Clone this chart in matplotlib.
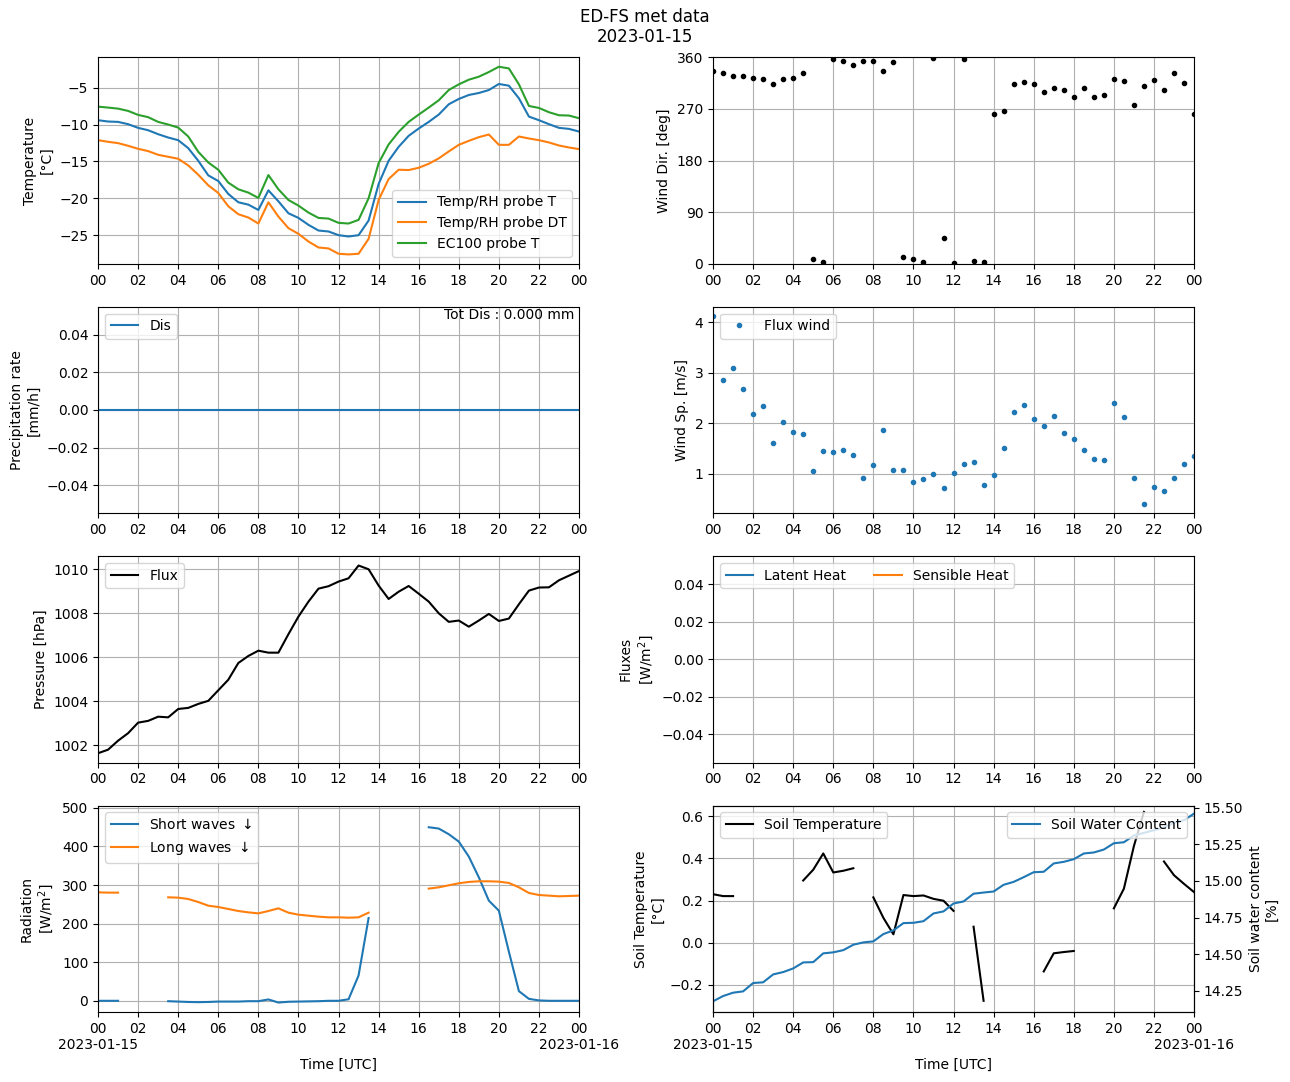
import numpy as np
import pandas as pd
import matplotlib
matplotlib.use("Agg")
import matplotlib.pyplot as plt
import matplotlib.dates as mdates

nan = np.nan
times = pd.date_range("2023-01-15 00:00", periods=49, freq="30min")

temp_rh_t = [-9.41, -9.59, -9.64, -9.95, -10.45, -10.77, -11.31, -11.76, -12.12, -13.2,
             -14.91, -16.89, -17.66, -19.41, -20.54, -20.86, -21.58, -18.92, -20.41, -22.03,
             -22.66, -23.6, -24.37, -24.5, -25.0, -25.18, -25.0, -23.02, -18.06, -14.91,
             -13.02, -11.53, -10.54, -9.64, -8.65, -7.25, -6.53, -5.99, -5.72, -5.32,
             -4.50, -4.73, -6.44, -8.92, -9.41, -9.95, -10.45, -10.59, -10.95]
temp_rh_dt = [-12.12, -12.34, -12.52, -12.88, -13.29, -13.6, -14.1, -14.37, -14.64, -15.54,
              -16.8, -18.24, -19.28, -21.08, -22.16, -22.61, -23.42, -20.54, -22.48, -24.05,
              -24.82, -25.86, -26.67, -26.80, -27.52, -27.61, -27.52, -25.5, -20.23, -17.39,
              -16.13, -16.17, -15.86, -15.32, -14.59, -13.65, -12.75, -12.21, -11.71, -11.35,
              -12.75, -12.75, -11.62, -11.89, -12.12, -12.43, -12.84, -13.11, -13.33]
temp_ec100 = [-7.57, -7.70, -7.84, -8.15, -8.69, -9.0, -9.64, -10.0, -10.41, -11.62,
              -13.69, -15.14, -16.13, -17.88, -18.78, -19.23, -19.95, -16.85, -18.78, -20.23,
              -20.99, -21.94, -22.66, -22.75, -23.33, -23.42, -22.93, -20.0, -15.23, -12.7,
              -10.99, -9.64, -8.65, -7.70, -6.71, -5.32, -4.55, -3.92, -3.51, -2.88,
              -2.16, -2.39, -4.55, -7.48, -7.75, -8.33, -8.74, -8.78, -9.14]

wind_dir = [336.8, 333.3, 328.1, 328.0, 324.6, 322.9, 314.2, 322.9, 324.6, 333.3,
            8.1, 2.9, 357.7, 354.2, 347.2, 354.2, 354.2, 336.8, 352.5, 11.6,
            8.1, 2.9, 359.4, 44.6, 1.2, 357.7, 4.6, 2.9, 262.0, 267.2,
            314.2, 317.7, 314.2, 300.3, 307.2, 303.8, 291.6, 307.2, 291.6, 295.1,
            322.9, 319.4, 277.7, 310.7, 321.2, 303.8, 333.3, 315.9, 262.0]

precip = [0.0] * 49
tot_dis = 0.0

wind_speed = [4.12, 2.85, 3.09, 2.67, 2.18, 2.34, 1.61, 2.02, 1.83, 1.79,
              1.06, 1.45, 1.43, 1.47, 1.37, 0.92, 1.18, 1.87, 1.08, 1.08,
              0.84, 0.90, 1.00, 0.72, 1.02, 1.20, 1.24, 0.78, 0.98, 1.51,
              2.22, 2.36, 2.08, 1.95, 2.14, 1.81, 1.69, 1.47, 1.30, 1.28,
              2.40, 2.12, 0.92, 0.41, 0.74, 0.67, 0.92, 1.20, 1.35]

pressure = [1001.64, 1001.80, 1002.21, 1002.55, 1003.03, 1003.11, 1003.30, 1003.27, 1003.65, 1003.70,
            1003.88, 1004.02, 1004.50, 1004.98, 1005.74, 1006.06, 1006.30, 1006.21, 1006.21, 1007.05,
            1007.85, 1008.53, 1009.12, 1009.23, 1009.44, 1009.59, 1010.17, 1010.00, 1009.26, 1008.65,
            1008.98, 1009.24, 1008.89, 1008.53, 1008.00, 1007.61, 1007.67, 1007.39, 1007.67, 1007.97,
            1007.65, 1007.76, 1008.41, 1009.03, 1009.17, 1009.18, 1009.50, 1009.71, 1009.92]

latent_heat = []
sensible_heat = []

short_waves = [0.0, 0.0, 0.0, nan, nan, nan, nan, -1.0, -2.0, -3.0,
               -3.5, -3.0, -2.0, -2.0, -2.0, -1.0, -1.0, 3.5, -4.5, -2.5,
               -2.0, -1.5, -1.0, 0.0, 0.0, 4.0, 65.7, 214.5, nan, nan,
               nan, nan, nan, 449.8, 446.4, 431.7, 412.6, 373.7, 320.0, 259.5,
               233.6, 127.2, 25.0, 5.0, 1.0, 0.0, 0.0, 0.0, 0.0]
long_waves = [281.1, 280.3, 280.3, nan, nan, nan, nan, 268.2, 267.3, 263.8,
              256.0, 246.5, 243.1, 237.9, 232.7, 229.2, 226.6, 232.7, 239.6, 228.4,
              223.2, 220.6, 218.0, 216.3, 216.3, 215.4, 216.3, 228.4, nan, nan,
              nan, nan, nan, 290.7, 294.1, 299.3, 304.5, 308.0, 309.7, 309.7,
              308.8, 305.4, 294.1, 279.4, 274.2, 272.5, 270.8, 271.6, 272.5]

soil_temp = [0.230, 0.221, 0.221, nan, nan, nan, nan, nan, nan, 0.295,
             0.346, 0.423, 0.333, 0.341, 0.353, nan, 0.215, 0.118, 0.040, 0.226,
             0.221, 0.224, 0.208, 0.199, 0.151, nan, 0.076, -0.275, nan, nan,
             nan, nan, nan, -0.136, -0.050, -0.044, -0.039, nan, nan, nan,
             0.163, 0.256, 0.458, 0.620, nan, 0.385, 0.320, 0.279, 0.240]
soil_water = [14.177, 14.213, 14.236, 14.245, 14.302, 14.307, 14.361, 14.377, 14.402, 14.443,
              14.445, 14.505, 14.512, 14.527, 14.564, 14.580, 14.587, 14.637, 14.662, 14.712,
              14.714, 14.725, 14.778, 14.792, 14.846, 14.860, 14.913, 14.921, 14.928, 14.974,
              14.994, 15.026, 15.060, 15.063, 15.120, 15.131, 15.149, 15.188, 15.195, 15.215,
              15.258, 15.265, 15.311, 15.329, 15.347, 15.365, 15.398, 15.415, 15.461]

fig, axes = plt.subplots(4, 2, figsize=(12.9, 10.82), dpi=100)
fig.subplots_adjust(left=0.076, right=0.9256, top=0.947, bottom=0.0647,
                    wspace=0.2786, hspace=0.208)
fig.suptitle("ED-FS met data\n2023-01-15", y=0.993)

t0 = pd.Timestamp("2023-01-15 00:00")
t1 = pd.Timestamp("2023-01-16 00:00")


def fmt_top(x, pos=None):
    return mdates.num2date(x).strftime("%H")


def fmt_bottom(x, pos=None):
    d = mdates.num2date(x)
    if d.hour == 0 and d.minute == 0:
        return d.strftime("%H\n%Y-%m-%d")
    return d.strftime("%H")


for r in range(4):
    for c in range(2):
        ax = axes[r, c]
        ax.set_xlim(t0, t1)
        ax.xaxis.set_major_locator(mdates.HourLocator(byhour=range(0, 24, 2)))
        ax.xaxis.set_major_formatter(plt.FuncFormatter(fmt_bottom if r == 3 else fmt_top))
        ax.grid(True)

# Temperature
ax = axes[0, 0]
ax.plot(times, temp_rh_t, label="Temp/RH probe T")
ax.plot(times, temp_rh_dt, label="Temp/RH probe DT")
ax.plot(times, temp_ec100, label="EC100 probe T")
ax.set_ylabel("Temperature\n[°C]")
ax.legend(loc="lower right")

# Wind direction
ax = axes[0, 1]
ax.plot(times, wind_dir, "k.", linestyle="none")
ax.set_ylim(0, 360)
ax.set_yticks([0, 90, 180, 270, 360])
ax.set_ylabel("Wind Dir. [deg]")

# Precipitation
ax = axes[1, 0]
ax.plot(times, precip, label="Dis")
ax.set_ylabel("Precipitation rate\n[mm/h]")
ax.legend(loc="upper left")
ax.text(0.99, 0.995, "Tot Dis : %.3f mm" % tot_dis, transform=ax.transAxes,
        ha="right", va="top")

# Wind speed
ax = axes[1, 1]
ax.plot(times, wind_speed, ".", color="C0", linestyle="none", label="Flux wind")
ax.set_ylabel("Wind Sp. [m/s]")
ax.legend(loc="upper left")

# Pressure
ax = axes[2, 0]
ax.plot(times, pressure, color="k", label="Flux")
ax.set_ylabel("Pressure [hPa]")
ax.legend(loc="upper left")

# Fluxes
ax = axes[2, 1]
ax.plot(times[:len(latent_heat)], latent_heat, label="Latent Heat")
ax.plot(times[:len(sensible_heat)], sensible_heat, label="Sensible Heat")
ax.set_ylim(-0.055, 0.055)
ax.set_xlim(t0, t1)
ax.set_ylabel("Fluxes\n[W/m$^2$]")
ax.legend(loc="upper left", ncol=2)

# Radiation
ax = axes[3, 0]
ax.plot(times, short_waves, label="Short waves $\\downarrow$")
ax.plot(times, long_waves, label="Long waves $\\downarrow$")
ax.set_ylim(-29, 506)
ax.set_ylabel("Radiation\n[W/m$^2$]")
ax.set_xlabel("Time [UTC]")
ax.legend(loc="upper left")

# Soil
ax = axes[3, 1]
ax.plot(times, soil_temp, color="k", label="Soil Temperature")
ax.set_ylim(-0.328, 0.650)
ax.set_ylabel("Soil Temperature\n[°C]")
ax.set_xlabel("Time [UTC]")
ax.legend(loc="upper left")
ax2 = ax.twinx()
ax2.plot(times, soil_water, color="C0", label="Soil Water Content")
ax2.set_ylim(14.104, 15.516)
ax2.set_ylabel("Soil water content\n[%]")
ax2.legend(loc="upper right")

fig.savefig("out.png", dpi=100)
